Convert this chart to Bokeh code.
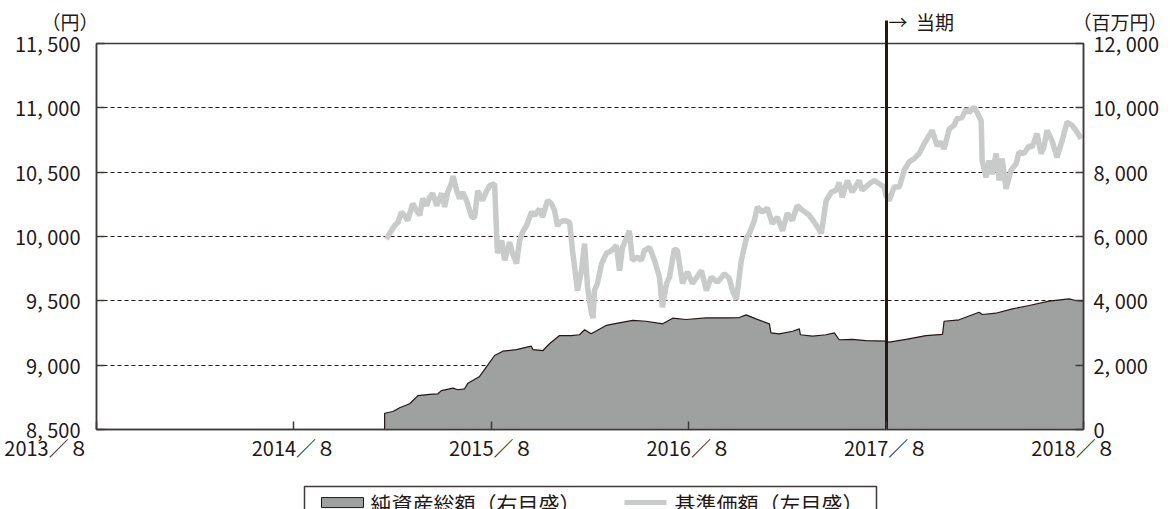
from bokeh.plotting import figure
from bokeh.models import (Range1d, LinearAxis, FixedTicker, Title)
from bokeh.embed import file_html
from bokeh.resources import INLINE

FONT = "Noto Sans CJK JP"
DARK = "#231815"
FRAME = "#3e3a39"
AREA_FILL = "#9fa0a0"
LINE_COLOR = "#c9caca"
SP = "\u3000"
NB = "\u00a0"

# ---- axes / ticks ----
x_tick_years = [2013, 2014, 2015, 2016, 2017, 2018]
x_tick_labels = ["2013／８" + SP * 5, "2014／８", "2015／８", "2016／８", "2017／８", "2018／８" + SP]
left_ticks = [8500, 9000, 9500, 10000, 10500, 11000, 11500]
left_labels = ["8, 500", "9, 000", "9, 500", "10, 000", "10, 500", "11, 000", "11, 500"]
right_ticks = [0, 2000, 4000, 6000, 8000, 10000, 12000]
right_labels = ["0", "2, 000", "4, 000", "6, 000", "8, 000", "10, 000", "12, 000"]
series_names = ["純資産総額（右目盛）", "基準価額（左目盛）"]

current_period = 2017 + 7 / 12  # 当期 (2017/8)

# ---- 基準価額 (yen, left axis) ----
bp_t = [2015.052, 2015.069, 2015.094, 2015.111, 2015.128, 2015.145, 2015.160, 2015.185,
        2015.205, 2015.221, 2015.236, 2015.256, 2015.271, 2015.286, 2015.307, 2015.332,
        2015.347, 2015.362, 2015.381, 2015.390, 2015.408, 2015.423, 2015.438, 2015.458,
        2015.484, 2015.499, 2015.514, 2015.539, 2015.560, 2015.575, 2015.600, 2015.610,
        2015.615, 2015.636, 2015.651, 2015.676, 2015.691, 2015.711, 2015.727, 2015.742,
        2015.762, 2015.787, 2015.803, 2015.828, 2015.843, 2015.868, 2015.889, 2015.904,
        2015.919, 2015.929, 2015.954, 2015.980, 2015.995, 2016.020, 2016.040, 2016.056,
        2016.071, 2016.091, 2016.099, 2016.106, 2016.121, 2016.142, 2016.167, 2016.192,
        2016.217, 2016.233, 2016.248, 2016.283, 2016.298, 2016.324, 2016.344, 2016.359,
        2016.385, 2016.410, 2016.435, 2016.450, 2016.471, 2016.486, 2016.511, 2016.526,
        2016.552, 2016.577, 2016.602, 2016.648, 2016.673, 2016.698, 2016.729, 2016.764,
        2016.789, 2016.805, 2016.825, 2016.850, 2016.876, 2016.891, 2016.916, 2016.931,
        2016.956, 2016.982, 2017.007, 2017.032, 2017.058, 2017.083, 2017.108, 2017.133,
        2017.159, 2017.194, 2017.220, 2017.255, 2017.280, 2017.306, 2017.331, 2017.346,
        2017.361, 2017.387, 2017.412, 2017.447, 2017.462, 2017.498, 2017.523, 2017.548,
        2017.574, 2017.582, 2017.599, 2017.624, 2017.650, 2017.675, 2017.700, 2017.726,
        2017.751, 2017.776, 2017.801, 2017.817, 2017.842, 2017.862, 2017.877, 2017.903,
        2017.928, 2017.943, 2017.968, 2017.989, 2018.004, 2018.029, 2018.044, 2018.065,
        2018.070, 2018.090, 2018.105, 2018.120, 2018.141, 2018.156, 2018.171, 2018.191,
        2018.216, 2018.242, 2018.257, 2018.282, 2018.308, 2018.323, 2018.348, 2018.368,
        2018.383, 2018.399, 2018.424, 2018.449, 2018.475, 2018.500, 2018.525, 2018.545,
        2018.571]
bp_v = [9980, 10025, 10085, 10110, 10190, 10160, 10125, 10255,
        10200, 10165, 10295, 10240, 10305, 10335, 10240, 10335,
        10230, 10345, 10410, 10470, 10355, 10295, 10345, 10280,
        10150, 10150, 10355, 10280, 10355, 10395, 10410, 10025,
        9870, 9970, 9815, 9955, 9870, 9790, 9970, 10035,
        10085, 10190, 10165, 10215, 10150, 10280, 10255, 10200,
        10080, 10110, 10125, 10110, 9890, 9580, 9735, 9945,
        9605, 9400, 9365, 9580, 9635, 9790, 9870, 9890,
        9930, 9735, 9915, 10045, 9815, 9840, 9815, 9890,
        9915, 9815, 9685, 9450, 9635, 9685, 9905, 9890,
        9635, 9725, 9635, 9735, 9580, 9685, 9645, 9710,
        9675, 9580, 9510, 9815, 9990, 10025, 10125, 10230,
        10190, 10220, 10100, 10150, 10045, 10180, 10125, 10240,
        10205, 10165, 10110, 10025, 10280, 10345, 10360, 10420,
        10305, 10435, 10345, 10435, 10360, 10410, 10435, 10410,
        10385, 10320, 10280, 10385, 10385, 10515, 10580, 10605,
        10645, 10720, 10785, 10825, 10705, 10735, 10680, 10835,
        10865, 10915, 10925, 10990, 10965, 11005, 10965, 10900,
        10590, 10460, 10590, 10485, 10645, 10435, 10605, 10370,
        10515, 10565, 10655, 10645, 10705, 10695, 10800, 10645,
        10695, 10825, 10745, 10615, 10745, 10890, 10865, 10825,
        10760]

# ---- 純資産総額 (million yen, right axis) ----
nav_t = [2015.043, 2015.085, 2015.119, 2015.170, 2015.212, 2015.271, 2015.313, 2015.330,
         2015.389, 2015.414, 2015.448, 2015.465, 2015.524, 2015.558, 2015.600, 2015.642,
         2015.710, 2015.786, 2015.794, 2015.845, 2015.878, 2015.929, 2015.988, 2016.030,
         2016.056, 2016.089, 2016.165, 2016.224, 2016.300, 2016.368, 2016.452, 2016.502,
         2016.570, 2016.671, 2016.773, 2016.840, 2016.874, 2016.924, 2016.992, 2017.000,
         2017.042, 2017.110, 2017.144, 2017.149, 2017.211, 2017.279, 2017.321, 2017.346,
         2017.413, 2017.481, 2017.582, 2017.599, 2017.684, 2017.785, 2017.869, 2017.877,
         2017.953, 2018.054, 2018.071, 2018.139, 2018.223, 2018.308, 2018.409, 2018.510,
         2018.544, 2018.583]
nav_v = [505, 560, 675, 800, 1055, 1090, 1110, 1210,
         1285, 1235, 1265, 1440, 1650, 1940, 2300, 2435,
         2485, 2590, 2485, 2455, 2665, 2920, 2920, 2945,
         3100, 2975, 3235, 3305, 3390, 3365, 3285, 3460,
         3420, 3470, 3470, 3480, 3565, 3440, 3285, 3005,
         2975, 3055, 3130, 2945, 2900, 2945, 3005, 2790,
         2800, 2765, 2745, 2715, 2800, 2920, 2955, 3365,
         3410, 3645, 3575, 3615, 3750, 3855, 3990, 4060,
         4010, 3990]

x_min, x_max = 2013 + 7 / 12, 2018 + 7 / 12
y_min, y_max = 8500, 11500

p = figure(frame_width=987, frame_height=386,
           min_border_left=96, min_border_right=87, min_border_top=43, min_border_bottom=80,
           x_range=Range1d(x_min, x_max), y_range=Range1d(y_min, y_max),
           output_backend="svg", toolbar_location=None,
           background_fill_color="white", border_fill_color="white")
p.extra_y_ranges = {"nav": Range1d(0, 12000)}

p.outline_line_color = FRAME
p.outline_line_width = 1.5
p.outline_line_alpha = 1

p.xgrid.visible = False
p.ygrid.ticker = FixedTicker(ticks=left_ticks)
p.ygrid.grid_line_color = DARK
p.ygrid.grid_line_dash = "4 3"
p.ygrid.grid_line_width = 1

# bottom axis
xa = p.xaxis[0]
xa.ticker = FixedTicker(ticks=[y + 7 / 12 for y in x_tick_years])
xa.major_label_overrides = {y + 7 / 12: lab for y, lab in zip(x_tick_years, x_tick_labels)}
# left axis
ya = p.yaxis[0]
ya.ticker = FixedTicker(ticks=left_ticks)
ya.major_label_overrides = {t: lab for t, lab in zip(left_ticks, left_labels)}
# right axis
ra = LinearAxis(y_range_name="nav", ticker=FixedTicker(ticks=right_ticks),
                major_label_overrides={t: lab for t, lab in zip(right_ticks, right_labels)})
p.add_layout(ra, "right")

for ax in (xa, ya, ra):
    ax.axis_line_color = FRAME
    ax.axis_line_width = 1.5
    ax.major_tick_line_color = FRAME
    ax.major_tick_line_width = 1.5
    ax.major_tick_in = 8
    ax.major_tick_out = 0
    ax.minor_tick_line_color = None
    ax.major_label_text_font = FONT
    ax.major_label_text_font_size = "20px"
    ax.major_label_text_color = DARK
xa.major_label_standoff = 3
ya.major_label_standoff = 16
ra.major_label_standoff = 10
# invisible spacer label below the dates
xa.axis_label = NB
xa.axis_label_text_font_size = "10px"
xa.axis_label_standoff = 23

# ---- 当期 marker: a tick of an axis above the frame ----
ca = LinearAxis(ticker=FixedTicker(ticks=[current_period]), axis_line_color=None,
                major_tick_in=386, major_tick_out=23, major_tick_line_width=3,
                major_tick_line_color=DARK, minor_tick_line_color=None,
                major_label_text_font_size="0px", major_label_text_alpha=0,
                major_label_standoff=0)
p.add_layout(ca, "above")


# ---- zero-height text rows (titles) ----
def row_text(text, offset, size, align="left", **kw):
    h = 1.448 * size
    return Title(text=text, align=align, offset=offset, standoff=-(2 + h),
                 text_font=FONT, text_font_size=f"{size}px", text_font_style="normal",
                 text_color=DARK, **kw)

p.add_layout(row_text("（円）", -55, 19), "above")
p.add_layout(row_text("（百万円）", -84, 19, align="right"), "above")
p.add_layout(row_text("→" + NB + NB + "当期", 792, 19), "above")

# ---- glyphs ----
area_x = [nav_t[0]] + nav_t + [nav_t[-1]]
area_y = [0] + nav_v + [0]
area = p.patch(area_x, area_y, fill_color=AREA_FILL, line_color=DARK, line_width=1.2,
               y_range_name="nav")
line = p.line(bp_t, bp_v, line_color=LINE_COLOR, line_width=5.5)

# ---- legend (box, keys, labels) in the row below the dates ----
p.add_layout(row_text(SP * 26, 208, 22, background_fill_color="white",
                      border_line_color=FRAME, border_line_width=1.5), "below")
p.add_layout(row_text(SP * 6, 225, 7, background_fill_color=AREA_FILL,
                      border_line_color=DARK, border_line_width=1), "below")
p.add_layout(row_text(series_names[0], 274, 21), "below")
p.add_layout(row_text(SP * 12, 528, 3.5, background_fill_color=LINE_COLOR), "below")
p.add_layout(row_text(series_names[1], 578, 21), "below")

open("out.html", "w").write(file_html(p, INLINE))
